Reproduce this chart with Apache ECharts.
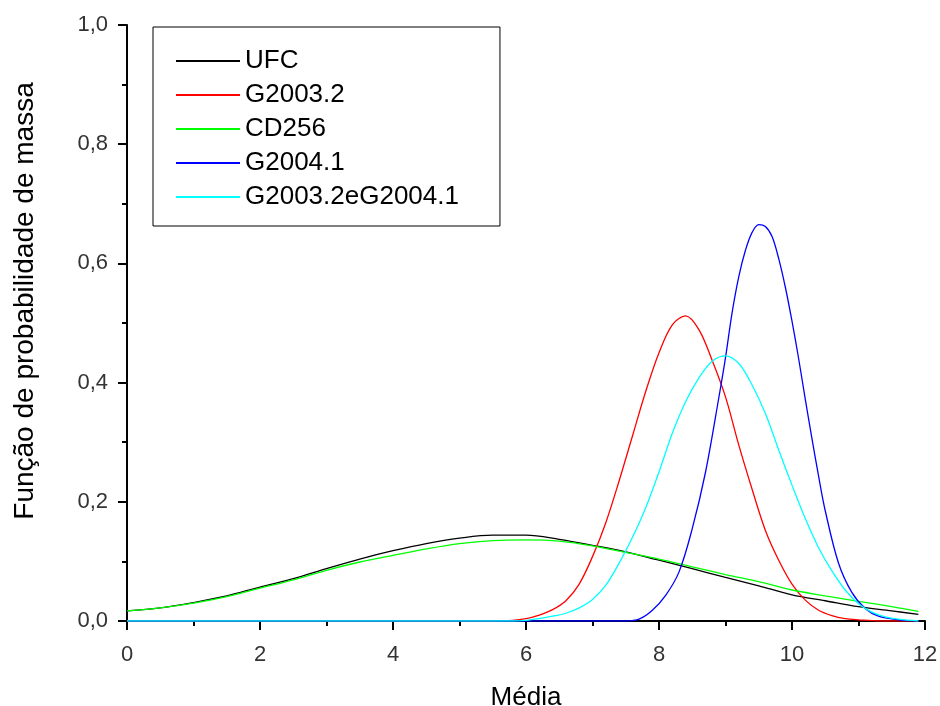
<!DOCTYPE html>
<html>
<head>
<meta charset="utf-8">
<script src="https://cdn.jsdelivr.net/npm/echarts@6/dist/echarts.min.js"></script>
<style>html,body{margin:0;padding:0;background:#fff}#c{width:940px;height:706px}</style>
</head>
<body>
<div id="c"></div>
<script>
// Series names
const seriesNames = ['UFC', 'G2003.2', 'CD256', 'G2004.1', 'G2003.2eG2004.1'];
const xTicks = [0, 2, 4, 6, 8, 10, 12];
const yTicks = [0, 0.2, 0.4, 0.6, 0.8, 1.0];

// UFC (black)
const ufcX = [0,0.5,1,1.5,2,2.5,3,3.5,4,4.5,5,5.5,6,6.5,7,7.5,8,8.5,9,9.5,10,10.5,11,11.5,11.9];
const ufcY = [0.017,0.022,0.031,0.042,0.057,0.071,0.088,0.104,0.118,0.130,0.139,0.144,0.144,0.137,0.127,0.116,0.102,0.088,0.073,0.059,0.044,0.034,0.024,0.017,0.011];

// CD256 (green)
const cdX = [0,0.5,1,1.5,2,2.5,3,3.5,4,4.5,5,5.5,6,6.5,7,7.5,8,8.5,9,9.5,10,10.5,11,11.5,11.9];
const cdY = [0.017,0.022,0.030,0.041,0.055,0.069,0.085,0.099,0.110,0.121,0.130,0.135,0.136,0.134,0.126,0.115,0.104,0.091,0.078,0.066,0.052,0.042,0.033,0.024,0.016];

// G2003.2 (red)
const g2003X = [0,5.5,5.8,6.0,6.2,6.4,6.6,6.8,7.0,7.2,7.4,7.6,7.8,8.0,8.2,8.4,8.6,8.8,9.0,9.2,9.4,9.6,9.8,10.0,10.2,10.4,10.6,10.8,11.0,11.3,11.9];
const g2003Y = [0,0,0.001,0.004,0.010,0.019,0.034,0.062,0.108,0.165,0.235,0.310,0.385,0.450,0.497,0.512,0.489,0.437,0.376,0.295,0.221,0.152,0.102,0.062,0.035,0.018,0.009,0.004,0.002,0,0];

// G2004.1 (blue)
const g2004X = [0,7.5,7.7,7.9,8.1,8.3,8.5,8.7,8.9,9.0,9.1,9.2,9.3,9.4,9.5,9.6,9.7,9.8,9.9,10.0,10.1,10.2,10.3,10.4,10.5,10.7,10.9,11.1,11.3,11.6,11.9];
const g2004Y = [0,0,0.003,0.018,0.043,0.082,0.155,0.250,0.375,0.442,0.518,0.578,0.622,0.652,0.665,0.662,0.645,0.608,0.560,0.503,0.440,0.372,0.306,0.243,0.185,0.097,0.048,0.021,0.008,0.002,0];

// G2003.2eG2004.1 (cyan)
const combX = [0,5.8,6.0,6.2,6.4,6.6,6.8,7.0,7.2,7.4,7.6,7.8,8.0,8.2,8.4,8.6,8.8,9.0,9.2,9.4,9.6,9.8,10.0,10.2,10.4,10.6,10.8,11.0,11.2,11.4,11.6,11.9];
const combY = [0,0,0.001,0.004,0.008,0.013,0.022,0.036,0.060,0.097,0.140,0.190,0.250,0.315,0.368,0.408,0.436,0.445,0.432,0.396,0.348,0.287,0.228,0.172,0.123,0.084,0.052,0.029,0.015,0.007,0.003,0];

const colors = ['#000000', '#ff0000', '#00ff00', '#0000ff', '#00ffff'];
const FONT = "'Liberation Sans', Arial, sans-serif";

function pairs(xs, ys) { return xs.map((x, i) => [x, ys[i]]); }
const allData = [pairs(ufcX, ufcY), pairs(g2003X, g2003Y), pairs(cdX, cdY), pairs(g2004X, g2004Y), pairs(combX, combY)];

const chart = echarts.init(document.getElementById('c'), null, {renderer: 'canvas'});
chart.setOption({
  animation: false,
  backgroundColor: '#ffffff',
  grid: {left: 127, right: 15, top: 25, bottom: 85, containLabel: false, outerBoundsMode: 'none'},
  legend: {
    orient: 'vertical',
    left: 153, top: 27,
    padding: [21, 41, 16, 22],
    borderColor: '#000', borderWidth: 1,
    itemWidth: 64, itemHeight: 20, itemGap: 8,
    itemStyle: {opacity: 0},
    textStyle: {fontFamily: FONT, fontSize: 26, color: '#000'},
    data: seriesNames
  },
  xAxis: {
    type: 'value', min: 0, max: 12, interval: 2,
    name: 'Média', nameLocation: 'middle', nameGap: 64,
    nameTextStyle: {fontFamily: FONT, fontSize: 26, color: '#000'},
    axisLine: {show: true, onZero: false, lineStyle: {color: '#000', width: 2}},
    axisTick: {show: true, length: 9, lineStyle: {color: '#000', width: 2}},
    minorTick: {show: true, splitNumber: 2, length: 5, lineStyle: {color: '#000', width: 2}},
    splitLine: {show: false},
    axisLabel: {fontFamily: FONT, fontSize: 22, color: '#333', margin: 23,
      formatter: v => xTicks.includes(v) ? String(v) : ''}
  },
  yAxis: {
    type: 'value', min: 0, max: 1, interval: 0.2,
    axisLine: {show: true, onZero: false, lineStyle: {color: '#000', width: 2}},
    axisTick: {show: true, length: 9, lineStyle: {color: '#000', width: 2}},
    minorTick: {show: true, splitNumber: 2, length: 5, lineStyle: {color: '#000', width: 2}},
    splitLine: {show: false},
    axisLabel: {fontFamily: FONT, fontSize: 22, color: '#333', margin: 19,
      formatter: v => yTicks.some(t => Math.abs(t - v) < 1e-9) ? v.toFixed(1).replace('.', ',') : ''}
  },
  graphic: [{
    type: 'text', x: 25, y: 301, rotation: Math.PI / 2,
    style: {text: 'Função de probabilidade de massa', font: "28px 'Liberation Sans', Arial, sans-serif",
      fill: '#000', align: 'center', verticalAlign: 'middle'}
  }],
  series: seriesNames.map((n, i) => ({
    name: n, type: 'line', data: allData[i],
    smooth: 0.35, symbol: 'none', showSymbol: false,
    color: colors[i],
    lineStyle: {color: colors[i], width: 1.3},
    z: 2 + i
  }))
});
</script>
</body>
</html>
